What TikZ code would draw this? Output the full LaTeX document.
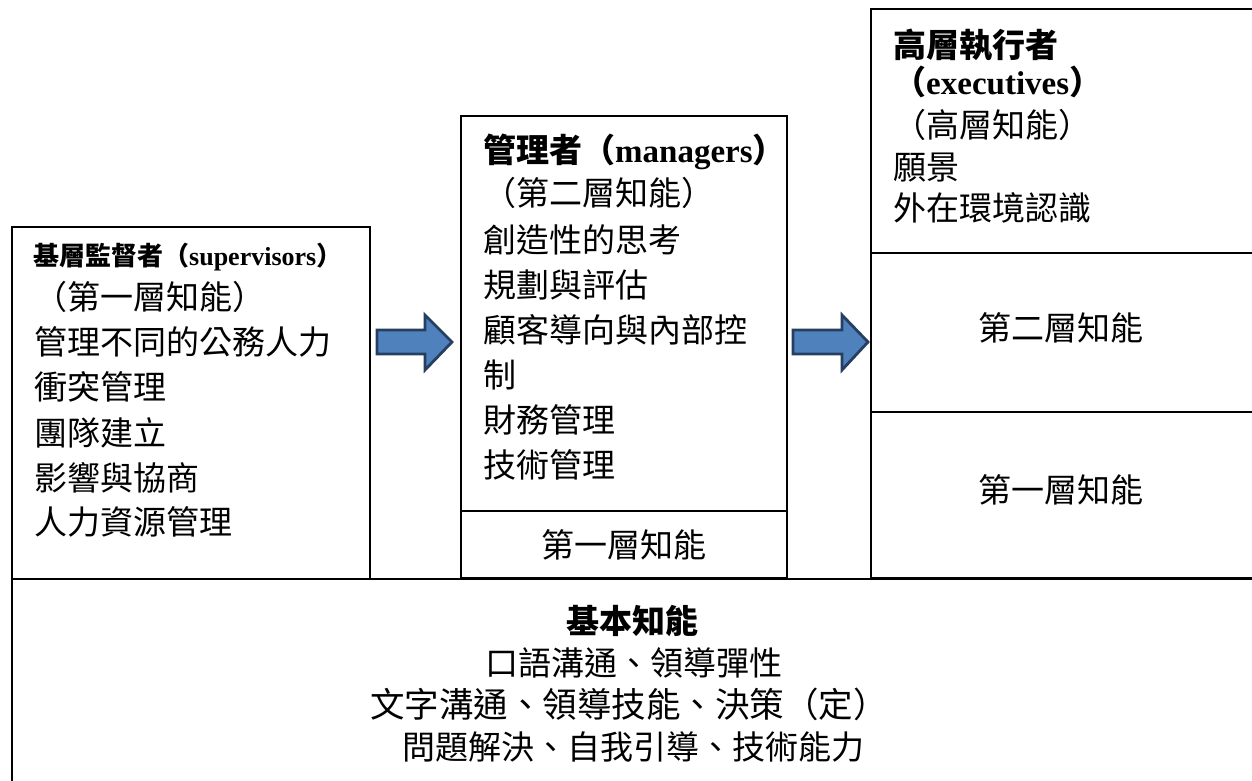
\documentclass[tikz,border=0pt]{standalone}
\usepackage{fontspec}
\setmainfont{Liberation Serif}
\newfontfamily\cjk{Noto Sans CJK TC}
\definecolor{arrowfill}{HTML}{4F81BD}
\definecolor{arrowdraw}{HTML}{263F60}
\begin{document}
\begin{tikzpicture}[x=1pt,y=-1pt]
\tikzset{
  box/.style={draw, line width=1.5pt},
  ln/.style={anchor=west, inner sep=0pt, font=\fontsize{33}{40}\selectfont\cjk, text height=29pt, text depth=4pt},
  lnc/.style={ln, anchor=center},
  ttl/.style={ln, font=\fontsize{33}{40}\selectfont\bfseries},
  ttls/.style={ln, font=\fontsize{26}{32}\selectfont\bfseries, text height=23pt, text depth=3pt},
  blockarrow/.style={fill=arrowfill, draw=arrowdraw, line width=2.8pt, line join=miter},
}
\clip (0,0) rectangle (1252,781);
\fill[white] (0,0) rectangle (1252,781);

% boxes
\draw[box] (12,227) rectangle (370,579);
\draw[box] (461,116) rectangle (787,578);
\draw[box] (461,511) -- (787,511);
\draw[box] (871,578) -- (871,9) -- (1270,9);
\draw[box] (871,253) -- (1270,253);
\draw[box] (871,412) -- (1270,412);
\draw[box] (871,578) -- (1270,578);
\draw[box] (1270,579) -- (12,579) -- (12,800);

% arrows
\draw[blockarrow] (377,330) -- (425,330) -- (425,315) -- (452,342) -- (425,370) -- (425,354) -- (377,354) -- cycle;
\draw[blockarrow] (793,330) -- (842,330) -- (842,315) -- (868,342) -- (842,370) -- (842,354) -- (793,354) -- cycle;

% left box
\node[ttls] (s0) at (33,255) {{\cjk 基層監督者（}supervisors{\cjk ）}};
\node[ln] (s1) at (34,297) {（第一層知能）};
\node[ln] (s2) at (34,342) {管理不同的公務人力};
\node[ln] (s3) at (34,387) {衝突管理};
\node[ln] (s4) at (34,433) {團隊建立};
\node[ln] (s5) at (34,478) {影響與協商};
\node[ln] (s6) at (34,522) {人力資源管理};

% middle box
\node[ttl] (m0) at (483,150) {{\cjk 管理者（}managers{\cjk ）}};
\node[ln] (m1) at (483,193) {（第二層知能）};
\node[ln] (m2) at (483,240) {創造性的思考};
\node[ln] (m3) at (483,285) {規劃與評估};
\node[ln] (m4) at (483,330) {顧客導向與內部控};
\node[ln] (m5) at (483,375) {制};
\node[ln] (m6) at (483,420) {財務管理};
\node[ln] (m7) at (483,465) {技術管理};
\node[lnc] (m8) at (624,545) {第一層知能};

% right box
\node[ttl] (e0) at (893,45) {{\cjk 高層執行者}};
\node[ttl] (e1) at (893,82) {{\cjk （}executives{\cjk ）}};
\node[ln] (e2) at (893,125) {（高層知能）};
\node[ln] (e3) at (893,167) {願景};
\node[ln] (e4) at (893,208) {外在環境認識};
\node[lnc] (e5) at (1061,328) {第二層知能};
\node[lnc] (e6) at (1061,490) {第一層知能};

% bottom box
\node[lnc, font=\fontsize{33}{40}\selectfont\cjk\bfseries] (b0) at (632,621) {基本知能};
\node[lnc] (b1) at (634,663) {口語溝通、領導彈性};
\node[lnc, font=\fontsize{34.5}{40}\selectfont\cjk] (b2) at (629,705) {文字溝通、領導技能、決策（定）};
\node[lnc] (b3) at (633,747) {問題解決、自我引導、技術能力};
\end{tikzpicture}
\end{document}
